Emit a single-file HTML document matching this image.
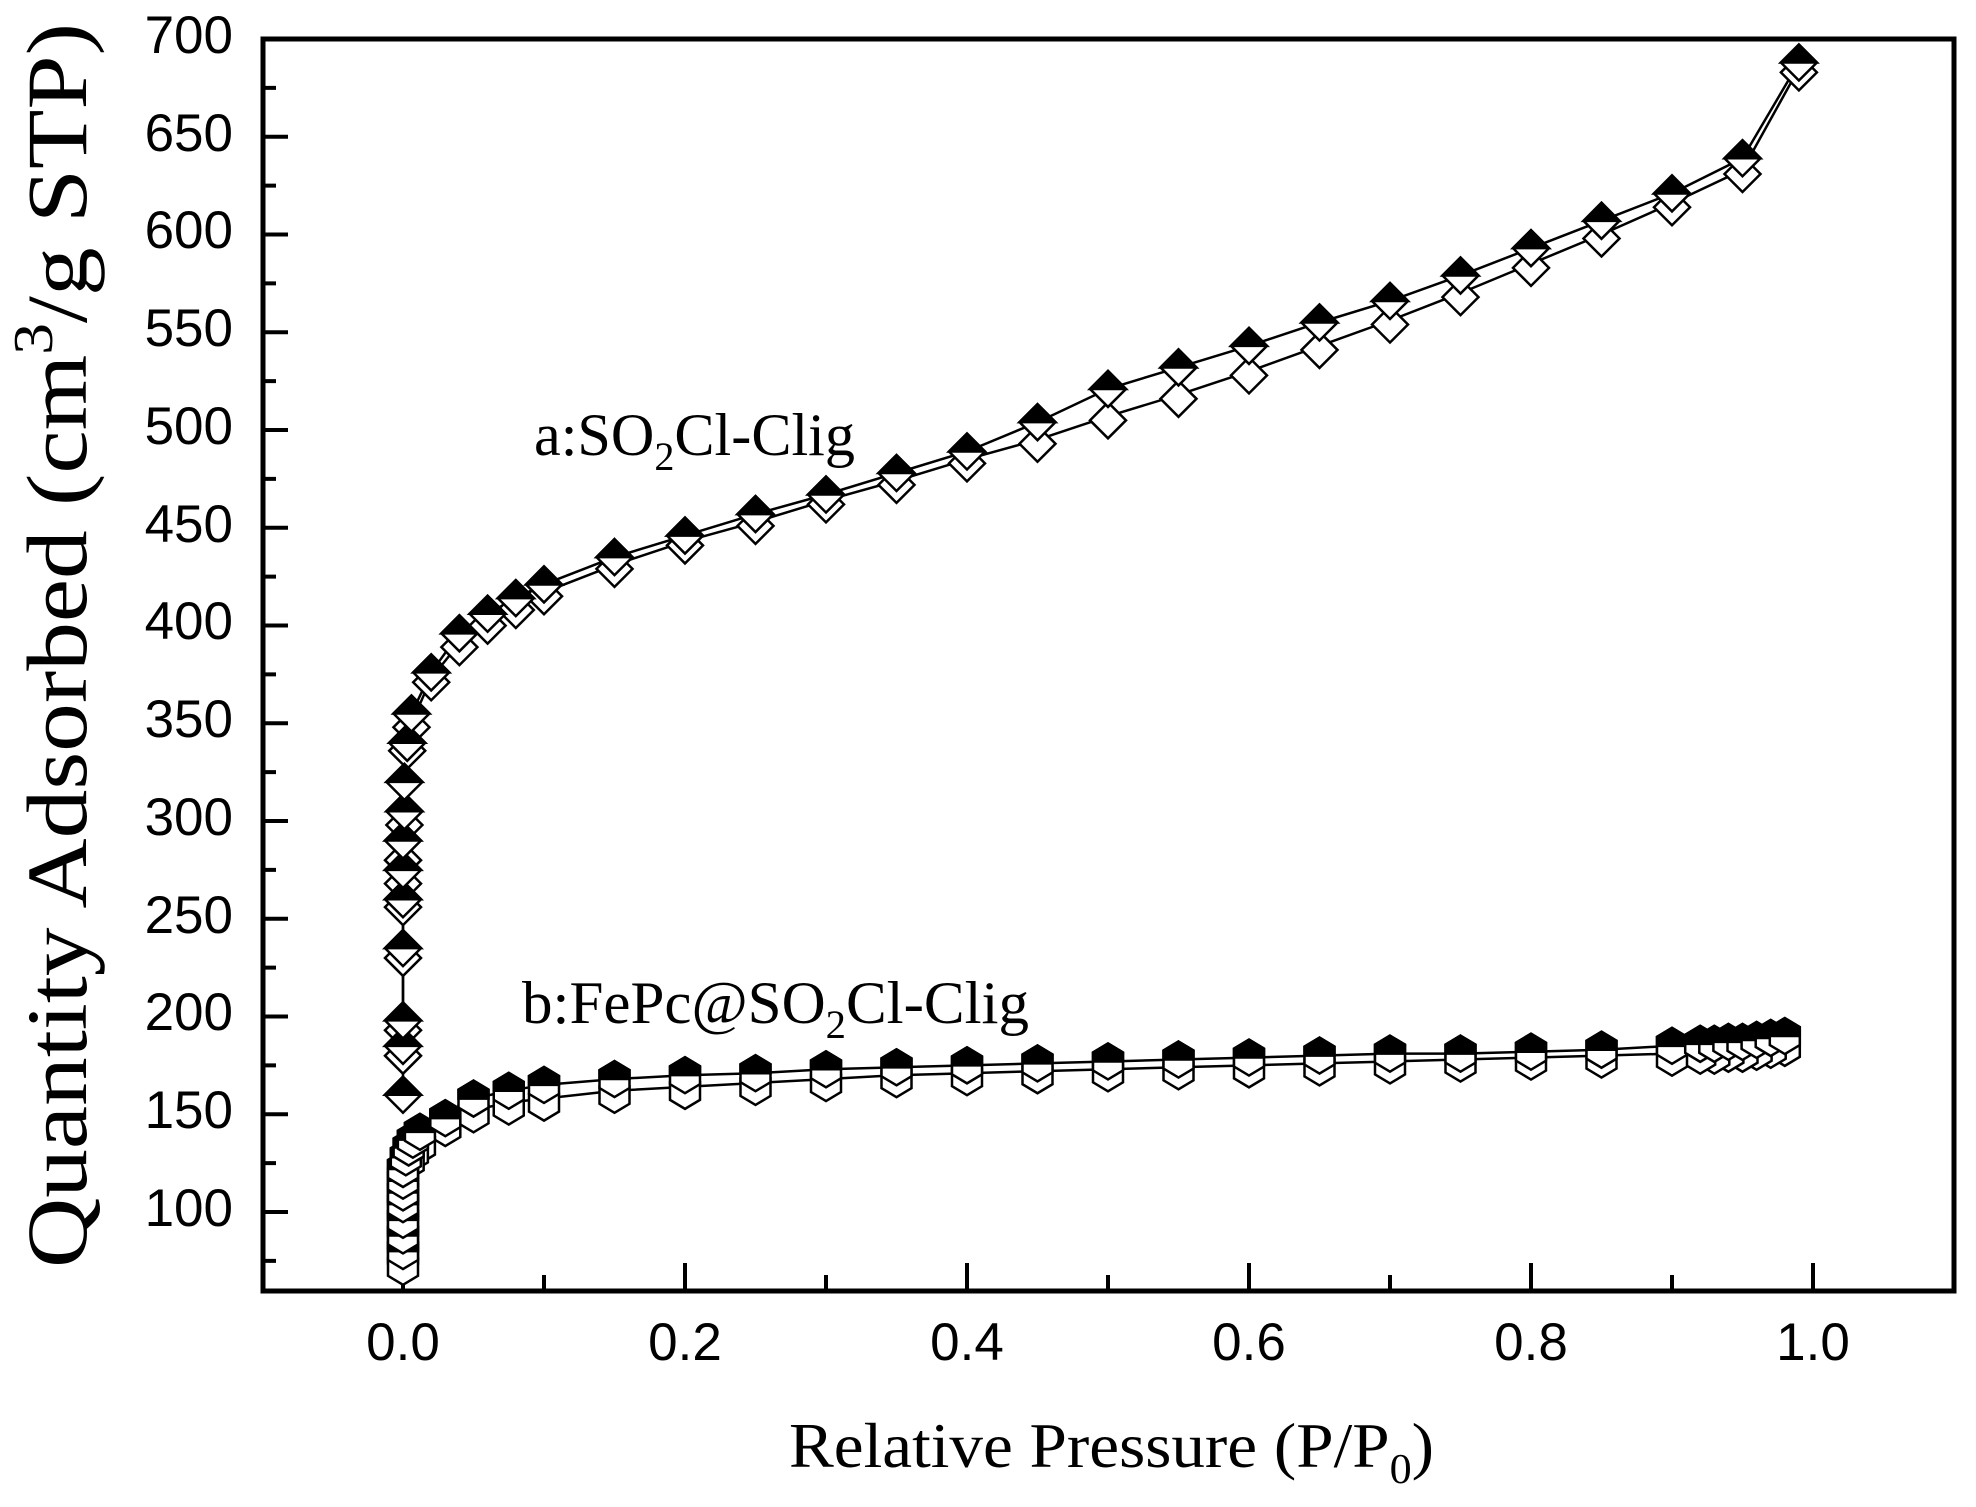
<!DOCTYPE html>
<html><head><meta charset="utf-8"><style>
html,body{margin:0;padding:0;background:#fff;}
svg{display:block;}
</style></head><body>
<svg id="s" width="1976" height="1507" xmlns="http://www.w3.org/2000/svg">
<rect width="1976" height="1507" fill="#fff"/>
<g id="ticks" stroke="#000" stroke-width="4"></g>
<g id="series"></g>
<rect x="263" y="39" width="1691" height="1252" fill="none" stroke="#000" stroke-width="5"/>
<g font-family="Liberation Sans, Arial, sans-serif" font-size="53" fill="#000" text-anchor="end">
<text x="233" y="53">700</text><text x="233" y="151">650</text><text x="233" y="248">600</text>
<text x="233" y="346">550</text><text x="233" y="444">500</text><text x="233" y="542">450</text>
<text x="233" y="639">400</text><text x="233" y="737">350</text><text x="233" y="835">300</text>
<text x="233" y="933">250</text><text x="233" y="1030">200</text><text x="233" y="1128">150</text>
<text x="233" y="1226">100</text>
</g>
<g font-family="Liberation Sans, Arial, sans-serif" font-size="53" fill="#000" text-anchor="middle">
<text x="403" y="1360">0.0</text><text x="685" y="1360">0.2</text><text x="967" y="1360">0.4</text>
<text x="1249" y="1360">0.6</text><text x="1531" y="1360">0.8</text><text x="1813" y="1360">1.0</text>
</g>
<g font-family="Liberation Serif, Times New Roman, serif" fill="#000">
<text x="789" y="1467" font-size="64" textLength="645" lengthAdjust="spacingAndGlyphs">Relative Pressure (P/P<tspan font-size="42" dy="16">0</tspan><tspan dy="-16">)</tspan></text>
<text transform="translate(86,1268) rotate(-90)" font-size="86" textLength="1245" lengthAdjust="spacingAndGlyphs">Quantity Adsorbed (cm<tspan font-size="56" dy="-34">3</tspan><tspan dy="34">/g STP)</tspan></text>
<text x="534" y="455" font-size="60" textLength="321" lengthAdjust="spacingAndGlyphs">a:SO<tspan font-size="40" dy="15">2</tspan><tspan dy="-15">Cl-Clig</tspan></text>
<text x="522" y="1023" font-size="60" textLength="507" lengthAdjust="spacingAndGlyphs">b:FePc@SO<tspan font-size="40" dy="15">2</tspan><tspan dy="-15">Cl-Clig</tspan></text>
</g>
</svg>
<script>
var NS="http://www.w3.org/2000/svg";
function X(p){return 403+1410*p;}
function Y(v){return 39+(700-v)*1.955;}
function el(n,a,par){var e=document.createElementNS(NS,n);for(var k in a)e.setAttribute(k,a[k]);par.appendChild(e);return e;}
var T=document.getElementById('ticks');
for(var v=75;v<700;v+=25){var y=Y(v);var maj=(v%50==0);el('line',{x1:263,y1:y,x2:263+(maj?25:13),y2:y},T);}
for(var i=0;i<=10;i++){var x=X(i/10);var maj=(i%2==0);el('line',{x1:x,y1:1291,x2:x,y2:1291-(maj?28:16)},T);}
var S=document.getElementById('series');
var aAds=[[0,160],[0,185],[0,198],[0,235],[0,260],[0,275],[0,290],[0.001,305],[0.001,320],[0.003,340],[0.006,355],[0.02,376],[0.04,396],[0.06,406],[0.08,414],[0.1,421],[0.15,435],[0.2,446],[0.25,457],[0.3,467],[0.35,478],[0.4,489],[0.45,504],[0.5,521],[0.55,532],[0.6,543],[0.65,555],[0.7,566],[0.75,579],[0.8,593],[0.85,607],[0.9,621],[0.95,639],[0.99,688]];
var aDes=[[0.99,685],[0.95,633],[0.9,616],[0.85,600],[0.8,585],[0.75,570],[0.7,556],[0.65,543],[0.6,530],[0.55,518],[0.5,507],[0.45,495],[0.4,485],[0.35,474],[0.3,464],[0.25,453],[0.2,443],[0.15,431],[0.1,417],[0.08,410],[0.06,402],[0.04,391],[0.02,373],[0.006,350],[0.003,338],[0.001,300],[0,282],[0,270],[0,258],[0,232],[0,195],[0,182]];
var bAds=[[0,80],[0,88],[0,96],[0,104],[0,110],[0,116],[0,122],[0.002,128],[0.004,133],[0.007,137],[0.012,141],[0.03,148],[0.05,158],[0.075,162],[0.1,165],[0.15,168],[0.2,170],[0.25,171],[0.3,173],[0.35,174],[0.4,175],[0.45,176],[0.5,177],[0.55,178],[0.6,179],[0.65,180],[0.7,181],[0.75,181],[0.8,182],[0.85,183],[0.9,185],[0.92,186],[0.93,186],[0.94,187],[0.95,187],[0.96,188],[0.97,189],[0.98,190]];
var bDes=[[0.98,186],[0.97,185],[0.96,184],[0.95,183],[0.94,183],[0.93,182],[0.92,182],[0.9,181],[0.85,180],[0.8,179],[0.75,178],[0.7,177],[0.65,176],[0.6,175],[0.55,174],[0.5,173],[0.45,172],[0.4,171],[0.35,170],[0.3,168],[0.25,166],[0.2,164],[0.15,162],[0.1,158],[0.075,156],[0.05,152],[0.03,145],[0.012,136],[0.007,132],[0.004,128],[0,120],[0,112],[0,104],[0,96],[0,88],[0,80],[0,74]];
function line(d){var s="";d.forEach(function(p,i){s+=(i?"L":"M")+X(p[0]).toFixed(1)+","+Y(p[1]).toFixed(1);});el('path',{d:s,fill:'none',stroke:'#000','stroke-width':2.5},S);}
function diamond(x,y,h,half){
 el('path',{d:"M"+x+","+(y-h)+"L"+(x+h)+","+y+"L"+x+","+(y+h)+"L"+(x-h)+","+y+"Z",fill:'#fff',stroke:'#000','stroke-width':2.5},S);
 if(half)el('path',{d:"M"+x+","+(y-h)+"L"+(x+h)+","+y+"L"+(x-h)+","+y+"Z",fill:'#000',stroke:'#000','stroke-width':2.5},S);
}
function hex(x,y,w,h,half){
 var q=h*0.5;
 el('path',{d:"M"+x+","+(y-h)+"L"+(x+w)+","+(y-q)+"L"+(x+w)+","+(y+q)+"L"+x+","+(y+h)+"L"+(x-w)+","+(y+q)+"L"+(x-w)+","+(y-q)+"Z",fill:'#fff',stroke:'#000','stroke-width':2.5},S);
 if(half)el('path',{d:"M"+x+","+(y-h)+"L"+(x+w)+","+(y-q)+"L"+(x+w)+","+y+"L"+(x-w)+","+y+"L"+(x-w)+","+(y-q)+"Z",fill:'#000',stroke:'#000','stroke-width':2.5},S);
}
line(aDes);line(aAds);line(bDes);line(bAds);
aDes.forEach(function(p){diamond(X(p[0]),Y(p[1])+4,18,false);});
aAds.forEach(function(p){diamond(X(p[0]),Y(p[1]),18,true);});
bDes.forEach(function(p){hex(X(p[0]),Y(p[1])+4,15,18,false);});
bAds.forEach(function(p){hex(X(p[0]),Y(p[1]),15,18,true);});
</script>
</body></html>
